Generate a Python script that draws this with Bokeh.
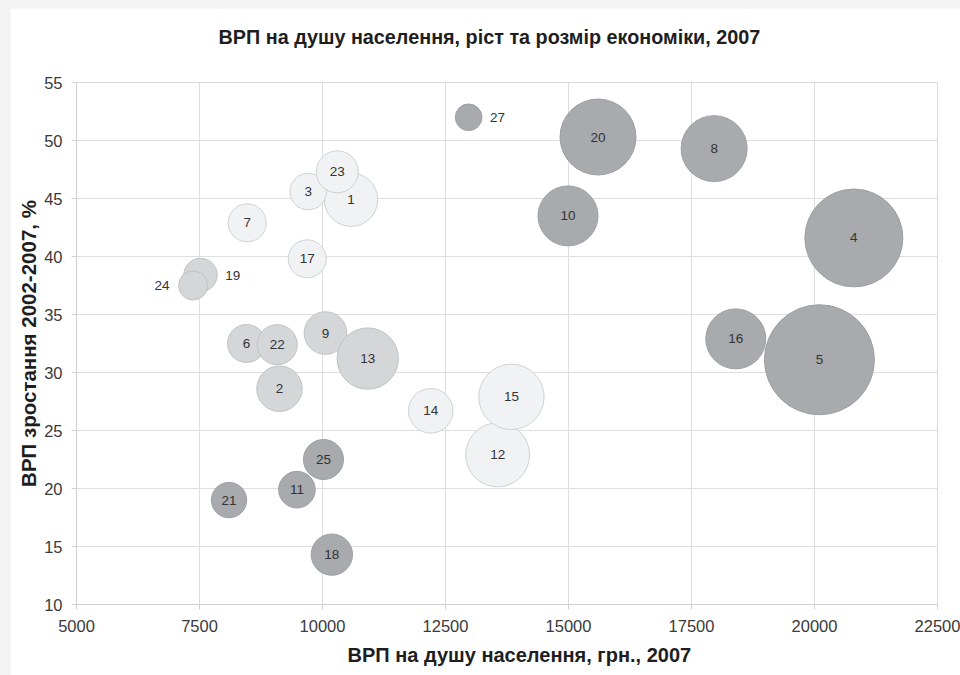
from bokeh.plotting import figure
from bokeh.models import ColumnDataSource, Range1d, SingleIntervalTicker, Title
from bokeh.layouts import column
from bokeh.core.properties import value
from bokeh.embed import file_html
from bokeh.resources import INLINE
import math

# Regions of Ukraine (numbered), 2007
region_id = [1, 2, 3, 4, 5, 6, 7, 8, 9, 10, 11, 12, 13, 14, 15,
             16, 17, 18, 19, 20, 21, 22, 23, 24, 25, 27]
# GRP per capita, UAH, 2007
grp_per_capita = [10580, 9125, 9710, 20800, 20100, 8456, 8470, 17960, 10060, 14990,
                  9480, 13560, 10920, 12200, 13840, 18400, 9690, 10190, 7520, 15600,
                  8100, 9080, 10300, 7370, 10020, 12970]
# GRP growth 2002-2007, %
grp_growth = [44.9, 28.6, 45.6, 41.6, 31.1, 32.5, 42.9, 49.3, 33.4, 43.5,
              19.9, 22.9, 31.2, 26.7, 27.9, 32.9, 39.8, 14.3, 38.4, 50.3,
              19.0, 32.4, 47.3, 37.5, 22.5, 52.0]
# Size of the regional economy, mln UAH, 2007
grp_total = [21700, 15700, 10200, 73000, 92000, 11000, 11000, 33100, 13800, 27400,
             10200, 31100, 28600, 15100, 32500, 27400, 11000, 13000, 8500, 43900,
             9500, 12200, 13400, 6400, 12200, 5400]
# Region group
region_group = ["light", "mid", "light", "dark", "dark", "mid", "light", "dark", "mid", "dark",
                "dark", "light", "mid", "light", "light", "dark", "light", "dark", "mid", "dark",
                "dark", "mid", "light", "mid", "dark", "dark"]

X_TICKS = [5000, 7500, 10000, 12500, 15000, 17500, 20000, 22500]
Y_TICKS = [10, 15, 20, 25, 30, 35, 40, 45, 50, 55]

CHART_TITLE = "ВРП на душу населення, ріст та розмір економіки, 2007"

GROUP_FILL = {"dark": "#a8aaad", "mid": "#d4d6d8", "light": "#f1f2f3"}
GROUP_LINE = {"dark": "#9d9fa2", "mid": "#c0c2c5", "light": "#cfd1d3"}
MAX_DIAMETER = 110  # px, bubble area proportional to economy size
OUTSIDE_LABEL = {27: "right", 19: "right", 24: "left"}

FONT = "Liberation Sans"

max_total = max(grp_total)
diam = [MAX_DIAMETER * math.sqrt(t / max_total) for t in grp_total]

label_text, label_dx, label_align = [], [], []
for rid, d in zip(region_id, diam):
    side = OUTSIDE_LABEL.get(rid)
    label_text.append(str(rid))
    if side == "right":
        label_dx.append(d / 2 + 8)
        label_align.append("left")
    elif side == "left":
        label_dx.append(-(d / 2 + 9))
        label_align.append("right")
    else:
        label_dx.append(0)
        label_align.append("center")

source = ColumnDataSource(dict(
    x=grp_per_capita, y=grp_growth, size=diam,
    fill=[GROUP_FILL[g] for g in region_group],
    line=[GROUP_LINE[g] for g in region_group],
    label=label_text, dx=label_dx, align=label_align,
))

p = figure(width=950, height=667, output_backend="svg", toolbar_location=None,
           x_range=Range1d(X_TICKS[0], X_TICKS[-1]), y_range=Range1d(Y_TICKS[0], Y_TICKS[-1]),
           min_border_left=66, min_border_right=23, min_border_top=74, min_border_bottom=71,
           background_fill_color="white", border_fill_color="white",
           outline_line_color="#d9d9d9", title=None)
p.margin = (8, 0, 0, 10)

# blank gap between the frame and the chart title
p.add_layout(Title(text=" ", text_font_size="1px", standoff=16), "above")
p.add_layout(Title(text=CHART_TITLE, align="left", offset=142, standoff=31,
                   text_font=FONT, text_font_size="19.8px", text_font_style="bold",
                   text_color="#1e1e1e"), "above")

p.scatter("x", "y", size="size", source=source, fill_color="fill", line_color="line",
          line_width=1)
p.text("x", "y", text="label", x_offset="dx", text_align="align", source=source,
       text_baseline="middle", text_font=value(FONT), text_font_size="13.5px",
       text_color="#333333")

p.xaxis.ticker = SingleIntervalTicker(interval=2500)
p.yaxis.ticker = SingleIntervalTicker(interval=5)
for ax in (p.xaxis, p.yaxis):
    ax.axis_line_color = "#d0d0d0"
    ax.major_tick_line_color = "#d0d0d0"
    ax.major_tick_out = 5
    ax.major_tick_in = 0
    ax.minor_tick_line_color = None
    ax.major_label_text_font = FONT
    ax.major_label_text_font_size = "16.5px"
    ax.major_label_text_color = "#3a3a3a"

p.xaxis.major_label_standoff = 10
p.yaxis.major_label_standoff = 9

p.yaxis.axis_label = "ВРП зростання 2002-2007, %"
p.yaxis.axis_label_text_font = FONT
p.yaxis.axis_label_text_font_size = "20.5px"
p.yaxis.axis_label_text_font_style = "bold"
p.yaxis.axis_label_text_color = "#1e1e1e"
p.yaxis.axis_label_standoff = 1

x_title = Title(text="ВРП на душу населення, грн., 2007", align="left", offset=271,
                standoff=14, vertical_align="bottom", text_font=FONT,
                text_font_size="20px", text_font_style="bold", text_color="#1e1e1e")
p.add_layout(x_title, "below")

p.grid.grid_line_color = "#dedede"
p.grid.grid_line_width = 1

root = column(p, styles={"background-color": "#f3f3f3"})

open("out.html", "w").write(file_html(root, INLINE))
